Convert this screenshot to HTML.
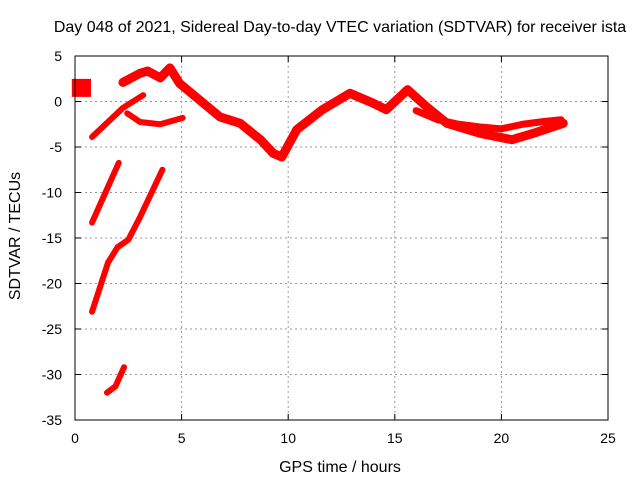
<!DOCTYPE html>
<html><head><meta charset="utf-8"><style>
body{margin:0;background:#fff}
svg{display:block;font-family:"Liberation Sans",sans-serif}
</style></head><body>
<svg id="chart" width="640" height="480">
<text x="340" y="32" text-anchor="middle" font-size="16">Day 048 of 2021, Sidereal Day-to-day VTEC variation (SDTVAR) for receiver ista</text>
<g id="grid"></g>
<g id="series"></g>
<rect x="75" y="56" width="533" height="364" fill="none" stroke="#000" stroke-width="1"/>
<g id="ticks"></g>
<text x="340" y="472" text-anchor="middle" font-size="16">GPS time / hours</text>
<text transform="translate(20,236) rotate(-90)" text-anchor="middle" font-size="16">SDTVAR / TECUs</text>
</svg>
<script>
const xTicks=[0,5,10,15,20,25];
const yTicks=[5,0,-5,-10,-15,-20,-25,-30,-35];
const blockH=[-0.15,0.75], blockV=[1.5,1.5];
const branchAH=[0.8,2.25,3.2], branchAV=[-3.9,-0.7,0.7];
const branchBH=[2.45,3.05,4.0,5.05], branchBV=[-1.3,-2.25,-2.5,-1.8];
const mainH=[2.25,3.05,3.4,4.0,4.45,4.9,6.8,7.75,8.7,9.3,9.7,10.4,11.6,12.9,14.0,14.6,15.6,16.5,17.45,19.0,20.5,21.5,22.9];
const mainV=[2.1,3.1,3.35,2.6,3.7,2.0,-1.7,-2.4,-4.2,-5.7,-6.1,-3.1,-0.9,0.9,-0.2,-0.9,1.3,-0.6,-2.4,-3.5,-4.2,-3.5,-2.4];
const upperH=[16.0,17.0,18.0,19.0,20.0,21.0,22.0,22.8];
const upperV=[-1.0,-2.0,-2.5,-2.8,-3.0,-2.5,-2.2,-2.0];
const lineBH=[0.8,2.05], lineBV=[-13.3,-6.75];
const lineCH=[0.8,1.55,2.0,2.5,3.05,4.1], lineCV=[-23.1,-17.7,-16.0,-15.2,-12.7,-7.5];
const lineDH=[1.5,1.9,2.3], lineDV=[-32,-31.3,-29.2];
const X=h=>75+h*533/25, Y=v=>56+(5-v)*364/40;
const NS="http://www.w3.org/2000/svg";
const mk=(t,a,p)=>{const e=document.createElementNS(NS,t);for(const k in a)e.setAttribute(k,a[k]);p.appendChild(e);return e;};
const grid=document.getElementById('grid'),ticks=document.getElementById('ticks'),ser=document.getElementById('series');
xTicks.forEach(t=>{
 if(t>0&&t<25){const l=mk('line',{x1:X(t),x2:X(t),y1:56,y2:420,stroke:'#999','stroke-dasharray':'2,3'},grid);
 
 }
 mk('line',{x1:X(t),x2:X(t),y1:420,y2:414,stroke:'#000'},ticks);
 mk('line',{x1:X(t),x2:X(t),y1:56,y2:62,stroke:'#000'},ticks);
 const tx=mk('text',{x:X(t),y:443,'text-anchor':'middle','font-size':14},ticks);tx.textContent=t;
 
 
});
yTicks.forEach(t=>{
 if(t<5&&t>-35){const l=mk('line',{x1:75,x2:608,y1:Y(t),y2:Y(t),stroke:'#999','stroke-dasharray':'2,3'},grid);
 
 }
 mk('line',{x1:75,x2:81,y1:Y(t),y2:Y(t),stroke:'#000'},ticks);
 mk('line',{x1:608,x2:602,y1:Y(t),y2:Y(t),stroke:'#000'},ticks);
 const tx=mk('text',{x:62,y:Y(t)+5,'text-anchor':'end','font-size':14},ticks);tx.textContent=t;
 
 
});
function draw(H,V,w,name,cap){
 const p=mk('polyline',{points:H.map((h,i)=>X(h)+','+Y(V[i])).join(' '),fill:'none',stroke:'#f00','stroke-width':w,'stroke-linejoin':'round','stroke-linecap':cap||'round'},ser);
 
 
}
draw(blockH,blockV,18,'series-block','butt');
draw(branchAH,branchAV,6,'series-branch-a');
draw(branchBH,branchBV,6,'series-branch-b');
draw(mainH,mainV,9,'series-main');
draw(upperH,upperV,7,'series-upper-band');
draw(lineBH,lineBV,6,'series-line-b');
draw(lineCH,lineCV,6,'series-line-c');
draw(lineDH,lineDV,6,'series-line-d');
</script>
</body></html>
